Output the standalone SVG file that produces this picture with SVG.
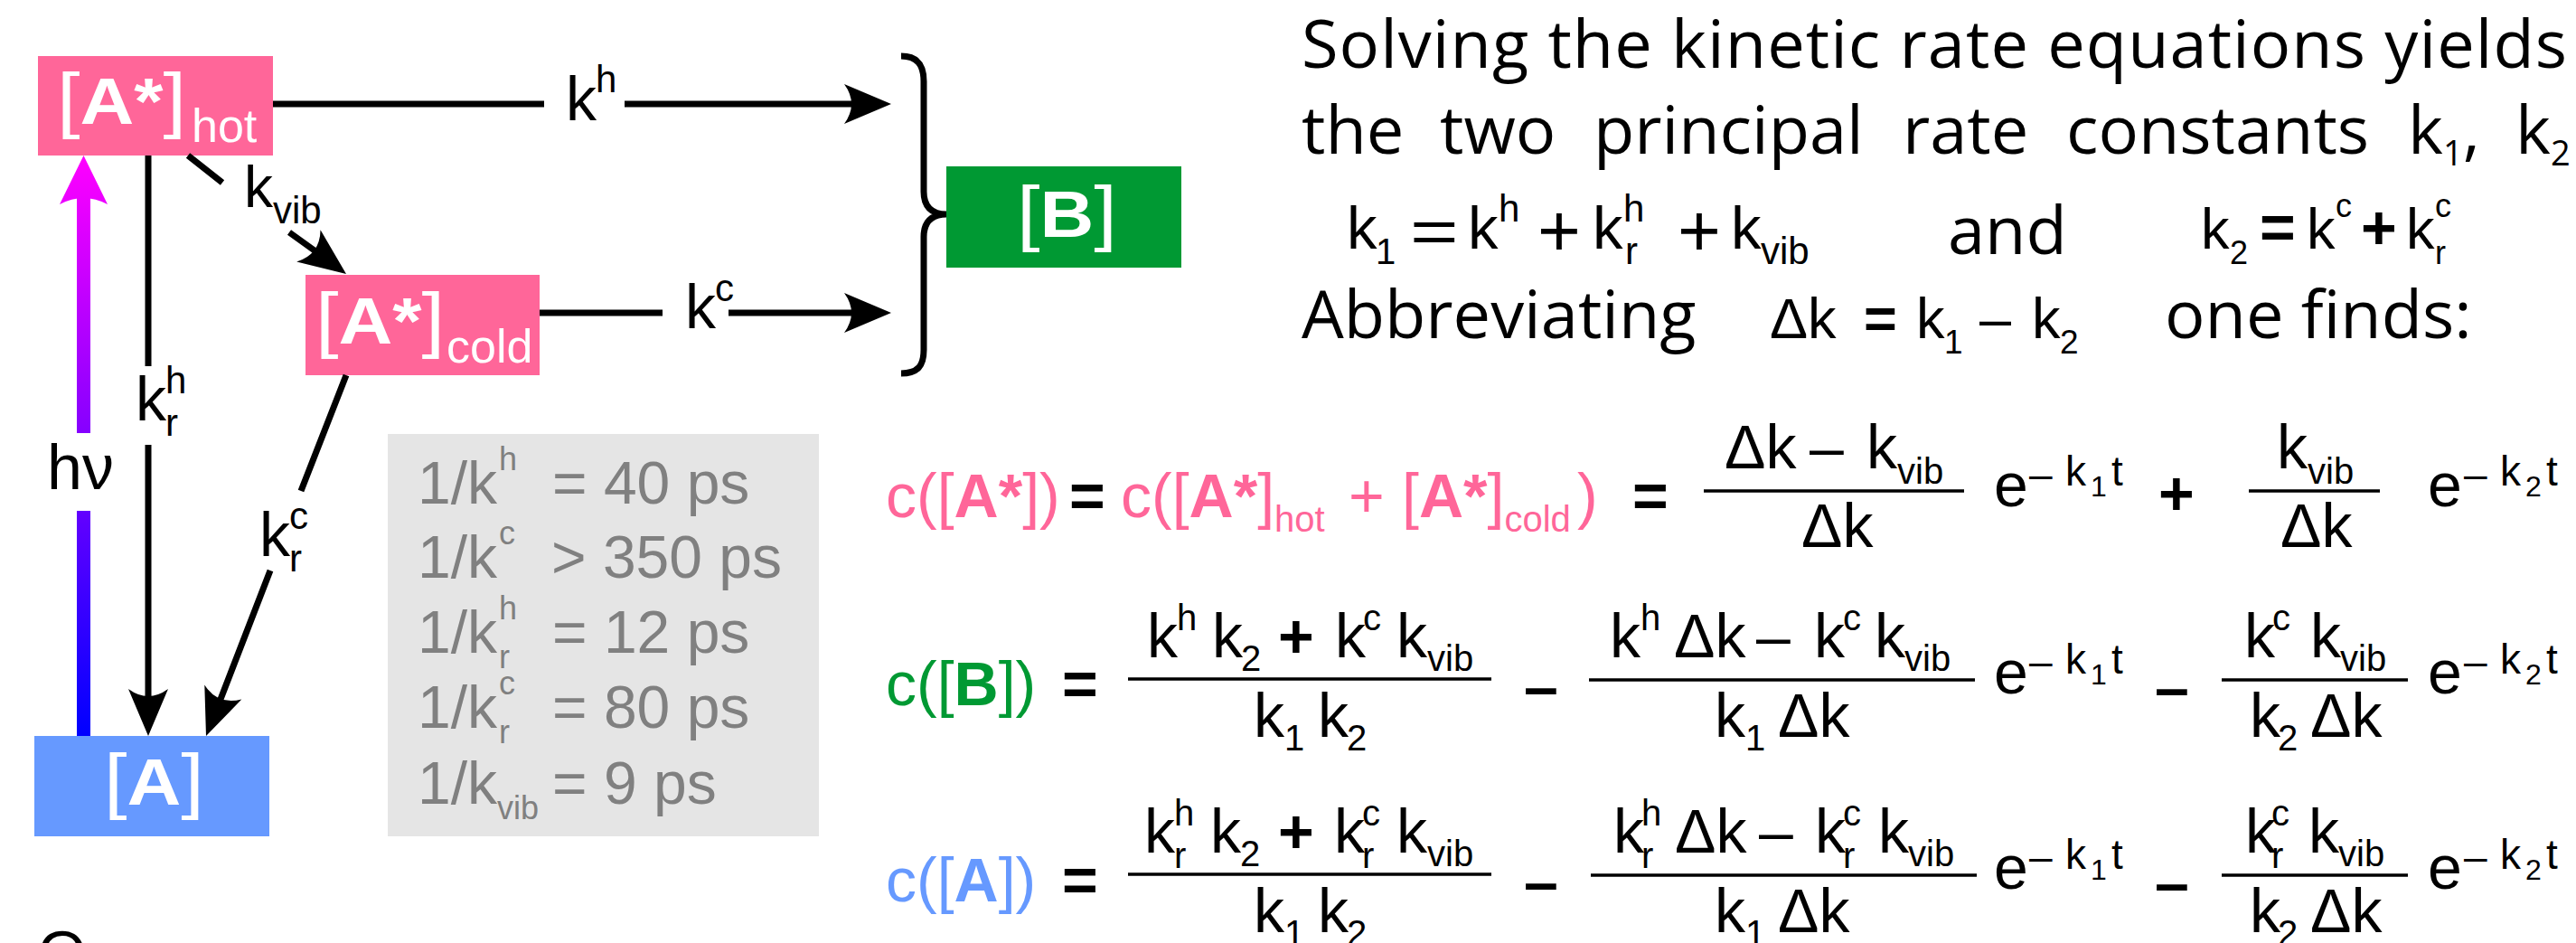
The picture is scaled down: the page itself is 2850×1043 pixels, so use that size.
<svg xmlns="http://www.w3.org/2000/svg" width="2850" height="1043" viewBox="0 0 2850 1043">
<defs>
<style>
text{font-family:"Liberation Sans",Arial,sans-serif;fill:#000;}
.os{font-family:"Open Sans","Liberation Sans",sans-serif;font-size:74px;}
.m{font-size:68px;}
.f{font-size:63px;}
.b{font-weight:bold;}
.w{fill:#fff;}
.g{fill:#808080;font-size:66px;}
.pk{fill:#FF6699;}
.gr{fill:#009933;}
.bl{fill:#6699FF;}
.ln{stroke:#000;stroke-width:7;fill:none;}
.fr{stroke:#000;stroke-width:3.5;}
.x{font-size:46px;}
.xs{font-size:32px;}
</style>
<path id="ah" d="M0,0 L-52,-22 Q-36,0 -52,22 Z" fill="#000"/>
<linearGradient id="hv" gradientUnits="userSpaceOnUse" x1="0" y1="172" x2="0" y2="814"><stop offset="0" stop-color="#FF00FF"/><stop offset="1" stop-color="#0000FF"/></linearGradient>
<linearGradient id="hvt" x1="0" y1="0" x2="1" y2="0.6"><stop offset="0" stop-color="#FF00FF"/><stop offset="1" stop-color="#4400FF"/></linearGradient>
</defs>
<rect width="2850" height="1043" fill="#fff"/>

<g id="node-Ahot">
<rect x="42" y="62" width="260" height="110" fill="#FF6699"/>
<text class="w" transform="translate(63,137) scale(1.15,1)"><tspan font-size="80">[</tspan><tspan font-size="72" font-weight="bold">A*</tspan><tspan font-size="80">]</tspan></text>
<text class="w" x="212" y="157" font-size="52">hot</text>
</g>
<g id="node-Acold">
<rect x="338" y="304" width="259" height="111" fill="#FF6699"/>
<text class="w" transform="translate(349,380) scale(1.15,1)"><tspan font-size="80">[</tspan><tspan font-size="72" font-weight="bold">A*</tspan><tspan font-size="80">]</tspan></text>
<text class="w" x="494" y="401" font-size="52">cold</text>
</g>
<g id="node-B">
<rect x="1047" y="184" width="260" height="112" fill="#009933"/>
<text class="w" transform="translate(1125,262) scale(1.15,1)"><tspan font-size="80">[</tspan><tspan font-size="72" font-weight="bold">B</tspan><tspan font-size="80">]</tspan></text>
</g>
<g id="node-A">
<rect x="38" y="814" width="260" height="111" fill="#6699FF"/>
<text class="w" transform="translate(115,890) scale(1.15,1)"><tspan font-size="80">[</tspan><tspan font-size="72" font-weight="bold">A</tspan><tspan font-size="80">]</tspan></text>
</g>

<g id="connectors">
<path class="ln" d="M302,115 H602 M691,115 H950"/>
<use href="#ah" transform="translate(986,115)"/>
<path class="ln" d="M597,346 H733 M806,346 H950"/>
<use href="#ah" transform="translate(986,346)"/>
<path class="ln" d="M208,172 L246,202 M320,257 L352,280"/>
<use href="#ah" transform="translate(383,303) rotate(36.8)"/>
<path class="ln" d="M164,172 V405 M164,492 V780"/>
<use href="#ah" transform="translate(164,814) rotate(90)"/>
<path class="ln" d="M383,415 L333,543 M299,631 L243,776"/>
<use href="#ah" transform="translate(228,814) rotate(111.2)"/>
<path class="ln" stroke-width="6" d="M997,62 C1015,62 1022,72 1022,90 L1022,212 C1022,228 1030,237 1047,237 C1030,237 1022,246 1022,262 L1022,387 C1022,405 1015,413 997,413"/>
<rect x="85" y="218" width="15" height="261" fill="url(#hv)"/>
<rect x="85" y="565" width="15" height="249" fill="url(#hv)"/>
<path d="M92.5,172 L119,226 Q92.5,212 66,226 Z" fill="url(#hv)"/>
</g>

<g id="labels">
<text font-size="68" x="626" y="133">k<tspan x="659" y="102" font-size="42">h</tspan></text>
<text font-size="68" x="758" y="363">k<tspan x="791" y="333" font-size="42">c</tspan></text>
<text font-size="64" x="270" y="229">k<tspan x="302" y="247" font-size="42">vib</tspan></text>
<text font-size="68" x="150" y="465">k<tspan x="183" y="435" font-size="42">h</tspan><tspan x="183" y="482" font-size="42">r</tspan></text>
<text font-size="68" x="287" y="615">k<tspan x="320" y="585" font-size="42">c</tspan><tspan x="320" y="632" font-size="42">r</tspan></text>
<text font-size="70" x="52" y="541" fill="url(#hvt)">hν</text>
</g>

<g id="lifetimes">
<rect x="429" y="480" width="477" height="445" fill="#E5E5E5"/>
<text class="g"><tspan x="462" y="557">1/k</tspan><tspan x="552" y="520" font-size="36">h</tspan><tspan x="611" y="557">= 40 ps</tspan></text>
<text class="g"><tspan x="462" y="639">1/k</tspan><tspan x="552" y="602" font-size="36">c</tspan><tspan x="610" y="639">&gt; 350 ps</tspan></text>
<text class="g"><tspan x="462" y="722">1/k</tspan><tspan x="552" y="685" font-size="36">h</tspan><tspan x="552" y="739" font-size="36">r</tspan><tspan x="611" y="722">= 12 ps</tspan></text>
<text class="g"><tspan x="462" y="805">1/k</tspan><tspan x="552" y="768" font-size="36">c</tspan><tspan x="552" y="822" font-size="36">r</tspan><tspan x="611" y="805">= 80 ps</tspan></text>
<text class="g"><tspan x="462" y="889">1/k</tspan><tspan x="550" y="906" font-size="36">vib</tspan><tspan x="611" y="889">= 9 ps</tspan></text>
</g>

<g id="text-block">
<text class="os" x="1440" y="75" textLength="1400" lengthAdjust="spacing">Solving the kinetic rate equations yields</text>
<text class="os" y="170"><tspan x="1440">the</tspan><tspan x="1593">two</tspan><tspan x="1763">principal</tspan><tspan x="2105">rate</tspan><tspan x="2286">constants</tspan><tspan x="2664">k</tspan><tspan y="183" font-size="38">1</tspan><tspan y="170">,</tspan><tspan x="2783">k</tspan><tspan y="183" font-size="38">2</tspan></text>
<text font-size="67" y="275"><tspan x="1490">k</tspan><tspan x="1522" y="292" font-size="40">1</tspan><tspan x="1624" y="275">k</tspan><tspan x="1658" y="245" font-size="42">h</tspan><tspan x="1762" y="275">k</tspan><tspan x="1796" y="245" font-size="42">h</tspan><tspan x="1798" y="292" font-size="42">r</tspan><tspan x="1915" y="275">k</tspan><tspan x="1948" y="292" font-size="42">vib</tspan></text>
<text font-size="68" transform="translate(1560,280) scale(1.35,1)">=</text>
<text font-size="82" x="1701" y="283">+</text>
<text font-size="82" x="1856" y="283">+</text>
<text class="os" x="2155" y="281" font-size="70">and</text>
<text class="f" y="275"><tspan x="2435">k</tspan><tspan x="2467" y="292" font-size="36">2</tspan><tspan x="2500" y="275" class="b" font-size="68">=</tspan><tspan x="2552">k</tspan><tspan x="2584" y="240" font-size="36">c</tspan><tspan x="2612" y="275" class="b" font-size="68">+</tspan><tspan x="2662">k</tspan><tspan x="2694" y="240" font-size="36">c</tspan><tspan x="2694" y="292" font-size="36">r</tspan></text>
<text class="os" x="1440" y="374">Abbreviating</text>
<text class="f" y="374"><tspan x="1958">Δk</tspan><tspan x="2062" class="b">=</tspan><tspan x="2120">k</tspan><tspan x="2151" y="391" font-size="37">1</tspan><tspan x="2190" y="374">–</tspan><tspan x="2248">k</tspan><tspan x="2279" y="391" font-size="37">2</tspan></text>
<text class="os" x="2395" y="374">one finds:</text>
<text class="os" x="40" y="1083">O</text>
</g>

<g id="eq-Astar">
<text class="m pk" y="572"><tspan x="980">c([</tspan><tspan class="b">A*</tspan><tspan>])</tspan></text>
<text class="m b" x="1183" y="572">=</text>
<text class="m pk" y="572"><tspan x="1240">c([</tspan><tspan class="b">A*</tspan><tspan>]</tspan><tspan y="588" font-size="40">hot</tspan><tspan x="1492" y="572">+</tspan><tspan x="1551">[</tspan><tspan class="b">A*</tspan><tspan>]</tspan><tspan y="588" font-size="40">cold</tspan><tspan x="1745" y="572">)</tspan></text>
<text class="m b" x="1806" y="572">=</text>
<line class="fr" x1="1885" y1="543" x2="2173" y2="543"/>
<text class="m"><tspan x="1908" y="518">Δk</tspan><tspan x="2002">–</tspan><tspan x="2065">k</tspan><tspan x="2099" y="535" font-size="40">vib</tspan></text>
<text class="m" x="1993" y="605">Δk</text>
<text class="m"><tspan x="2206" y="560">e</tspan><tspan class="x" x="2245" y="540">–</tspan><tspan class="x" x="2285" y="537">k</tspan><tspan class="xs" x="2313" y="549">1</tspan><tspan class="x" x="2336" y="537">t</tspan></text>
<text class="m b" x="2388" y="569">+</text>
<line class="fr" x1="2488" y1="543" x2="2633" y2="543"/>
<text class="m"><tspan x="2519" y="518">k</tspan><tspan x="2553" y="535" font-size="40">vib</tspan></text>
<text class="m" x="2523" y="605">Δk</text>
<text class="m"><tspan x="2686" y="560">e</tspan><tspan class="x" x="2726" y="540">–</tspan><tspan class="x" x="2766" y="537">k</tspan><tspan class="xs" x="2794" y="549">2</tspan><tspan class="x" x="2817" y="537">t</tspan></text>
</g>

<g id="eq-B">
<text class="m gr" y="780"><tspan x="980">c([</tspan><tspan class="b">B</tspan><tspan>])</tspan></text>
<text class="m b" x="1175" y="780">=</text>
<line class="fr" x1="1248" y1="751" x2="1650" y2="751"/>
<text class="m"><tspan x="1269" y="727">k</tspan><tspan x="1302" y="697" font-size="40">h</tspan><tspan x="1341" y="727">k</tspan><tspan x="1373" y="742" font-size="40">2</tspan><tspan x="1414" y="727" class="b">+</tspan><tspan x="1477">k</tspan><tspan x="1508" y="697" font-size="40">c</tspan><tspan x="1545" y="727">k</tspan><tspan x="1579" y="742" font-size="40">vib</tspan></text>
<text class="m"><tspan x="1387" y="815">k</tspan><tspan x="1421" y="830" font-size="40">1</tspan><tspan x="1458" y="815">k</tspan><tspan x="1490" y="830" font-size="40">2</tspan></text>
<text class="m b" x="1686" y="783">–</text>
<line class="fr" x1="1758" y1="752" x2="2185" y2="752"/>
<text class="m"><tspan x="1781" y="727">k</tspan><tspan x="1815" y="697" font-size="40">h</tspan><tspan x="1852" y="727">Δk</tspan><tspan x="1943">–</tspan><tspan x="2007">k</tspan><tspan x="2039" y="697" font-size="40">c</tspan><tspan x="2074" y="727">k</tspan><tspan x="2107" y="742" font-size="40">vib</tspan></text>
<text class="m"><tspan x="1897" y="815">k</tspan><tspan x="1931" y="830" font-size="40">1</tspan><tspan x="1967" y="815">Δk</tspan></text>
<text class="m"><tspan x="2206" y="767">e</tspan><tspan class="x" x="2245" y="747">–</tspan><tspan class="x" x="2285" y="745">k</tspan><tspan class="xs" x="2313" y="757">1</tspan><tspan class="x" x="2336" y="745">t</tspan></text>
<text class="m b" x="2384" y="784">–</text>
<line class="fr" x1="2458" y1="752" x2="2664" y2="752"/>
<text class="m"><tspan x="2483" y="727">k</tspan><tspan x="2514" y="697" font-size="40">c</tspan><tspan x="2556" y="727">k</tspan><tspan x="2589" y="742" font-size="40">vib</tspan></text>
<text class="m"><tspan x="2489" y="815">k</tspan><tspan x="2520" y="830" font-size="40">2</tspan><tspan x="2556" y="815">Δk</tspan></text>
<text class="m"><tspan x="2686" y="767">e</tspan><tspan class="x" x="2726" y="747">–</tspan><tspan class="x" x="2766" y="745">k</tspan><tspan class="xs" x="2794" y="757">2</tspan><tspan class="x" x="2817" y="745">t</tspan></text>
</g>

<g id="eq-A">
<text class="m bl" y="997"><tspan x="980">c([</tspan><tspan class="b">A</tspan><tspan>])</tspan></text>
<text class="m b" x="1175" y="997">=</text>
<line class="fr" x1="1248" y1="967" x2="1650" y2="967"/>
<text class="m"><tspan x="1266" y="943">k</tspan><tspan x="1299" y="913" font-size="40">h</tspan><tspan x="1299" y="960" font-size="40">r</tspan><tspan x="1339" y="943">k</tspan><tspan x="1372" y="958" font-size="40">2</tspan><tspan x="1414" y="943" class="b">+</tspan><tspan x="1476">k</tspan><tspan x="1507" y="913" font-size="40">c</tspan><tspan x="1507" y="960" font-size="40">r</tspan><tspan x="1545" y="943">k</tspan><tspan x="1579" y="958" font-size="40">vib</tspan></text>
<text class="m"><tspan x="1387" y="1031">k</tspan><tspan x="1421" y="1046" font-size="40">1</tspan><tspan x="1458" y="1031">k</tspan><tspan x="1490" y="1046" font-size="40">2</tspan></text>
<text class="m b" x="1686" y="999">–</text>
<line class="fr" x1="1760" y1="968" x2="2187" y2="968"/>
<text class="m"><tspan x="1785" y="943">k</tspan><tspan x="1816" y="913" font-size="40">h</tspan><tspan x="1816" y="960" font-size="40">r</tspan><tspan x="1853" y="943">Δk</tspan><tspan x="1946">–</tspan><tspan x="2008">k</tspan><tspan x="2039" y="913" font-size="40">c</tspan><tspan x="2039" y="960" font-size="40">r</tspan><tspan x="2078" y="943">k</tspan><tspan x="2111" y="958" font-size="40">vib</tspan></text>
<text class="m"><tspan x="1897" y="1031">k</tspan><tspan x="1931" y="1046" font-size="40">1</tspan><tspan x="1967" y="1031">Δk</tspan></text>
<text class="m"><tspan x="2206" y="983">e</tspan><tspan class="x" x="2245" y="963">–</tspan><tspan class="x" x="2285" y="961">k</tspan><tspan class="xs" x="2313" y="973">1</tspan><tspan class="x" x="2336" y="961">t</tspan></text>
<text class="m b" x="2384" y="1000">–</text>
<line class="fr" x1="2458" y1="968" x2="2664" y2="968"/>
<text class="m"><tspan x="2484" y="943">k</tspan><tspan x="2513" y="913" font-size="40">c</tspan><tspan x="2513" y="960" font-size="40">r</tspan><tspan x="2554" y="943">k</tspan><tspan x="2587" y="958" font-size="40">vib</tspan></text>
<text class="m"><tspan x="2489" y="1031">k</tspan><tspan x="2520" y="1046" font-size="40">2</tspan><tspan x="2556" y="1031">Δk</tspan></text>
<text class="m"><tspan x="2686" y="983">e</tspan><tspan class="x" x="2726" y="963">–</tspan><tspan class="x" x="2766" y="961">k</tspan><tspan class="xs" x="2794" y="973">2</tspan><tspan class="x" x="2817" y="961">t</tspan></text>
</g>
</svg>
